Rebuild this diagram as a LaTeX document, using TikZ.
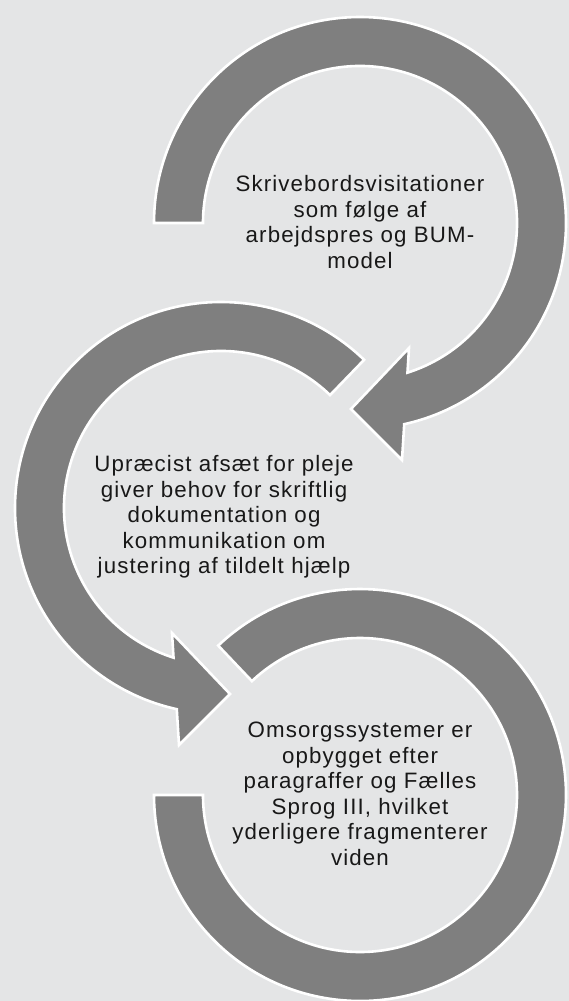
\documentclass[tikz,border=0pt]{standalone}
\usepackage{fontspec}
\newfontfamily\labelfont{Liberation Sans}[LetterSpace=5]
\definecolor{bggray}{HTML}{E4E5E6}
\definecolor{ringgray}{HTML}{7F7F7F}
\definecolor{textgray}{HTML}{181818}
\begin{document}
\begin{tikzpicture}[x=1pt,y=1pt,
  ring/.style={fill=ringgray, draw=white, line width=2.6pt, line join=miter},
  ringtext/.style={align=center, inner sep=0pt, text=textgray,
    font=\labelfont\fontsize{22.3}{25.5}\selectfont}]
  \useasboundingbox (0,0) rectangle (569,-1001);
  \fill[bggray] (0,0) rectangle (569,-1001);

  % centres of the three rings
  \coordinate (c1) at (360,-223);
  \coordinate (c2) at (221,-508);
  \coordinate (c3) at (360,-795);

  % top ring: clockwise arc ending in an arrow head pointing left
  \path[ring] ([shift={(c1)}]180:206) arc[start angle=180, end angle=-77.6, radius=206]
    -- ([shift={(c1)}]42,-237) -- ([shift={(c1)}]-9,-186) -- ([shift={(c1)}]49,-125)
    -- ([shift={(c1)}]-72.4:157) arc[start angle=-72.4, end angle=180, radius=157] -- cycle;

  % middle ring: counter-clockwise arc ending in an arrow head pointing right
  \path[ring] ([shift={(c2)}]46:206) arc[start angle=46, end angle=257.6, radius=206]
    -- ([shift={(c2)}]-42,-237) -- ([shift={(c2)}]9,-186) -- ([shift={(c2)}]-49,-125)
    -- ([shift={(c2)}]252.4:157) arc[start angle=252.4, end angle=46, radius=157] -- cycle;

  % bottom ring: plain arc
  \path[ring] ([shift={(c3)}]133.5:206) arc[start angle=133.5, end angle=-180, radius=206]
    -- ([shift={(c3)}]180:157) arc[start angle=-180, end angle=133.5, radius=157] -- cycle;

  \node[ringtext] (t1) at (360,-222) {Skrivebordsvisitationer\\som følge af\\arbejdspres og BUM-\\model};
  \node[ringtext] (t2) at (224,-517) {Upræcist afsæt for pleje\\giver behov for skriftlig\\dokumentation og\\kommunikation om\\justering af tildelt hjælp};
  \node[ringtext] (t3) at (360,-794) {Omsorgssystemer er\\opbygget efter\\paragraffer og Fælles\\Sprog III, hvilket\\yderligere fragmenterer\\viden};
\end{tikzpicture}
\end{document}
